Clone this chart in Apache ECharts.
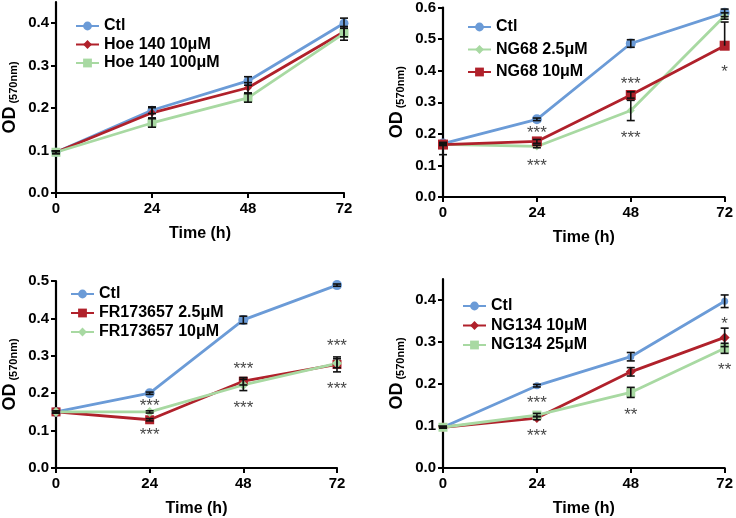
<!DOCTYPE html>
<html lang="en">
<head>
<meta charset="UTF-8">
<title>OD time course</title>
<style>
  html, body { margin: 0; padding: 0; background: #fff; }
  #main { width: 736px; height: 518px; }
</style>
</head>
<body>
<div id="main"></div>
<script src="https://cdn.jsdelivr.net/npm/echarts@6/dist/echarts.min.js"></script>
<script>
// time points (h)
var times = [0, 24, 48, 72];

// panel 1 - Hoe 140  (sd = symmetric error; sdLow only where the lower bar differs)
var p1Names = ['Ctl', 'Hoe 140 10μM', 'Hoe 140 100μM'];
var p1Ctl = [0.096, 0.195, 0.264, 0.400];
var p1CtlSd = [0.003, 0.008, 0.010, 0.012];
var p1Hoe10 = [0.096, 0.189, 0.248, 0.380];
var p1Hoe10Sd = [0.003, 0.012, 0.012, 0.012];
var p1Hoe100 = [0.096, 0.165, 0.224, 0.376];
var p1Hoe100Sd = [0.003, 0.010, 0.010, 0.016];

// panel 2 - NG68
var p2Names = ['Ctl', 'NG68 2.5μM', 'NG68 10μM'];
var p2Ctl = [0.169, 0.246, 0.486, 0.583];
var p2CtlSd = [0.004, 0.004, 0.012, 0.012];
var p2Ng25 = [0.167, 0.160, 0.274, 0.573];
var p2Ng25Sd = [0.004, 0.004, 0.032, 0.010];
var p2Ng10 = [0.166, 0.176, 0.323, 0.479];
var p2Ng10Sd = [0.004, 0.006, 0.010, 0.075];
var p2Ng10SdLow = [0.032, 0.006, 0.010, 0.0];
var p2Stars = [[24, 0.215, '***'], [24, 0.110, '***'], [48, 0.369, '***'], [48, 0.198, '***'], [72, 0.407, '*']];

// panel 3 - FR173657
var p3Names = ['Ctl', 'FR173657 2.5μM', 'FR173657 10μM'];
var p3Ctl = [0.150, 0.200, 0.396, 0.489];
var p3CtlSd = [0.003, 0.003, 0.010, 0.003];
var p3Fr25 = [0.150, 0.129, 0.232, 0.277];
var p3Fr25Sd = [0.003, 0.003, 0.010, 0.020];
var p3Fr10 = [0.150, 0.150, 0.222, 0.280];
var p3Fr10Sd = [0.003, 0.003, 0.015, 0.012];
var p3Stars = [[24, 0.176, '***'], [24, 0.097, '***'], [48, 0.274, '***'], [48, 0.171, '***'], [72, 0.337, '***'], [72, 0.221, '***']];

// panel 4 - NG134
var p4Names = ['Ctl', 'NG134 10μM', 'NG134 25μM'];
var p4Ctl = [0.097, 0.196, 0.265, 0.397];
var p4CtlSd = [0.002, 0.003, 0.010, 0.015];
var p4Ng10 = [0.097, 0.119, 0.229, 0.311];
var p4Ng10Sd = [0.002, 0.004, 0.010, 0.022];
var p4Ng25 = [0.097, 0.126, 0.180, 0.285];
var p4Ng25Sd = [0.002, 0.004, 0.012, 0.012];
var p4Stars = [[24, 0.164, '***'], [24, 0.084, '***'], [48, 0.134, '**'], [72, 0.352, '*'], [72, 0.241, '**']];

var BLUE = '#6b9bd7';
var RED = '#b0212b';
var GREEN = '#a8d9a2';
var FONT = 'Liberation Sans, Arial, sans-serif';

function pairs(ys) {
    return times.map(function (t, i) { return [t, ys[i]]; });
}
function quads(ys, sd, sdLow) {
    return times.map(function (t, i) { return [t, ys[i], sd[i], sdLow ? sdLow[i] : sd[i]]; });
}

function errBar(params, api) {
    var x = api.value(0), y = api.value(1), up = api.value(2), dn = api.value(3);
    var mid = api.coord([x, y]);
    var top = api.coord([x, y + up]);
    var bot = api.coord([x, y - dn]);
    var w = 4;
    var st = { stroke: '#111', lineWidth: 1.6 };
    var kids = [{ type: 'line', shape: { x1: top[0], y1: top[1], x2: bot[0], y2: bot[1] }, style: st }];
    if (up > 0) kids.push({ type: 'line', shape: { x1: top[0] - w, y1: top[1], x2: top[0] + w, y2: top[1] }, style: st });
    if (dn > 0) kids.push({ type: 'line', shape: { x1: bot[0] - w, y1: bot[1], x2: bot[0] + w, y2: bot[1] }, style: st });
    return { type: 'group', children: kids };
}

var grids = [
    { left: 54, right: 392, top: 2, bottom: 325 },
    { left: 443, right: 8, top: 7, bottom: 321 },
    { left: 52, right: 399, top: 281, bottom: 47 },
    { left: 443, right: 9, top: 279, bottom: 49 }
];
var yMax = [0.45, 0.6, 0.5, 0.45];
var yTicks = [
    [0, 0.1, 0.2, 0.3, 0.4],
    [0, 0.1, 0.2, 0.3, 0.4, 0.5, 0.6],
    [0, 0.1, 0.2, 0.3, 0.4, 0.5],
    [0, 0.1, 0.2, 0.3, 0.4]
];

var axisLine = { lineStyle: { color: '#000', width: 2.2 } };
var axisTick = { length: 5, lineStyle: { color: '#000', width: 2 } };

var xAxes = grids.map(function (g, i) {
    return {
        gridIndex: i, type: 'value', min: 0, max: 72, interval: 24,
        name: 'Time (h)', nameLocation: 'middle', nameGap: 33,
        nameTextStyle: { fontFamily: FONT, fontWeight: 'bold', fontSize: 16, color: '#000' },
        axisLine: axisLine, axisTick: axisTick, splitLine: { show: false },
        axisLabel: { fontFamily: FONT, fontWeight: 'bold', fontSize: 15, color: '#000', margin: 8 }
    };
});

var yAxes = grids.map(function (g, i) {
    return {
        gridIndex: i, type: 'value', min: 0, max: yMax[i],
        name: '{a|OD}{b| (570nm)}', nameLocation: 'middle', nameGap: 37, nameRotate: 90,
        nameTextStyle: {
            rich: {
                a: { fontFamily: FONT, fontWeight: 'bold', fontSize: 18, color: '#000', verticalAlign: 'bottom', lineHeight: 22 },
                b: { fontFamily: FONT, fontWeight: 'bold', fontSize: 11, color: '#000', verticalAlign: 'bottom', lineHeight: 16 }
            }
        },
        axisLine: axisLine,
        axisTick: { length: 5, lineStyle: { color: '#000', width: 2 }, customValues: yTicks[i] },
        splitLine: { show: false },
        axisLabel: {
            fontFamily: FONT, fontWeight: 'bold', fontSize: 15, color: '#000', margin: 7,
            customValues: yTicks[i],
            formatter: function (v) { return v.toFixed(1); }
        }
    };
});

var series = [];
function addLine(idx, name, ys, sd, color, symbol, size, sdLow) {
    series.push({
        type: 'custom', xAxisIndex: idx, yAxisIndex: idx, renderItem: errBar,
        data: quads(ys, sd, sdLow), silent: true, z: 3,
        encode: { x: 0, y: 1 }
    });
    series.push({
        type: 'line', name: name, xAxisIndex: idx, yAxisIndex: idx,
        data: pairs(ys), symbol: symbol, symbolSize: size, showSymbol: true,
        lineStyle: { color: color, width: 2.8 }, itemStyle: { color: color },
        z: 2, animation: false
    });
}
function addStars(idx, stars) {
    series.push({
        type: 'scatter', xAxisIndex: idx, yAxisIndex: idx, symbolSize: 0,
        data: stars.map(function (s) { return { value: [s[0], s[1]], label: { formatter: s[2] } }; }),
        label: { show: true, position: 'inside', offset: [0, 4], fontFamily: FONT, fontSize: 17, color: '#111' },
        silent: true, z: 4
    });
}

addLine(0, p1Names[0], p1Ctl, p1CtlSd, BLUE, 'circle', 9);
addLine(0, p1Names[1], p1Hoe10, p1Hoe10Sd, RED, 'diamond', 8);
addLine(0, p1Names[2], p1Hoe100, p1Hoe100Sd, GREEN, 'rect', 9);

addLine(1, p2Names[0], p2Ctl, p2CtlSd, BLUE, 'circle', 10);
addLine(1, p2Names[1], p2Ng25, p2Ng25Sd, GREEN, 'diamond', 8);
addLine(1, p2Names[2], p2Ng10, p2Ng10Sd, RED, 'rect', 10, p2Ng10SdLow);
addStars(1, p2Stars);

addLine(2, p3Names[0], p3Ctl, p3CtlSd, BLUE, 'circle', 10);
addLine(2, p3Names[1], p3Fr25, p3Fr25Sd, RED, 'rect', 9);
addLine(2, p3Names[2], p3Fr10, p3Fr10Sd, GREEN, 'diamond', 10);
addStars(2, p3Stars);

addLine(3, p4Names[0], p4Ctl, p4CtlSd, BLUE, 'circle', 7);
addLine(3, p4Names[1], p4Ng10, p4Ng10Sd, RED, 'diamond', 10);
addLine(3, p4Names[2], p4Ng25, p4Ng25Sd, GREEN, 'rect', 9);
addStars(3, p4Stars);

function legendAt(left, top, gap, names) {
    return {
        left: left, top: top, orient: 'vertical', itemGap: gap,
        itemWidth: 23, itemHeight: 11, selectedMode: false,
        data: names,
        textStyle: { fontFamily: FONT, fontWeight: 'bold', fontSize: 16, color: '#000' }
    };
}

var chart = echarts.init(document.getElementById('main'));
chart.setOption({
    animation: false,
    backgroundColor: '#fff',
    grid: grids,
    xAxis: xAxes,
    yAxis: yAxes,
    legend: [
        legendAt(70, 13, 2.5, p1Names),
        legendAt(462, 14, 6.5, p2Names),
        legendAt(65, 281, 3, p3Names),
        legendAt(457, 293, 3.5, p4Names)
    ],
    series: series
});
</script>
</body>
</html>
